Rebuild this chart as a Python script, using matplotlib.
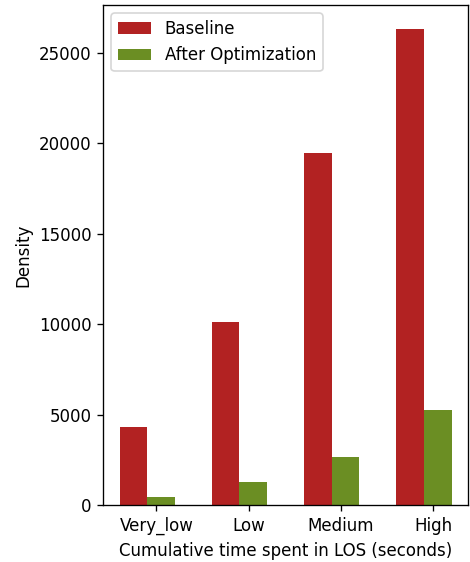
import numpy as np
import matplotlib
matplotlib.use('Agg')
import matplotlib.pyplot as plt

categories = ['Very_low', 'Low', 'Medium', 'High']
baseline = [4330, 10130, 19470, 26340]
after_opt = [425, 1290, 2655, 5230]

x = np.arange(len(categories))
width = 0.3

# rendered at 120 dpi so text and ticks come out at the reference scale
fig = plt.figure(figsize=(470 / 120, 562 / 120), dpi=120)
ax = fig.add_axes([0.219, 0.1014, 0.777, 0.8896])
ax.bar(x, baseline, width, color='firebrick', label='Baseline')
ax.bar(x + width, after_opt, width, color='olivedrab', label='After Optimization')
ax.set_xticks(x + 0.25)
ax.set_xticklabels(categories)
ax.set_xlabel('Cumulative time spent in LOS (seconds)')
ax.set_ylabel('Density')
ax.legend(loc='upper left')

fig.savefig('out.png', dpi=120)
